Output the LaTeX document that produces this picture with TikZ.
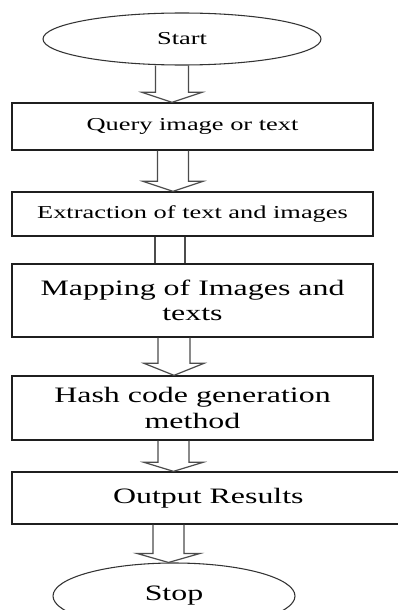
\documentclass[tikz,border=0pt]{standalone}
\usepackage{fontspec}
\setmainfont{Liberation Serif}[FakeStretch=1.45]
\usetikzlibrary{shapes.geometric,calc}
\newcommand{\smallfnt}{\fontsize{13.65pt}{15.7pt}\selectfont}
\newcommand{\bigfnt}{\fontsize{16.5pt}{19.1pt}\selectfont}
\newcommand{\blockarrow}[6]{%
  \draw[barrow]
    ($(O |- #1.south)+(#3-#4,0)$) --
    ($(O |- #2.north)+(#3-#4,-#6)$) --
    ($(O |- #2.north)+(#3-#5,-#6)$) --
    ($(O |- #2.north)+(#3,0)$) --
    ($(O |- #2.north)+(#3+#5,-#6)$) --
    ($(O |- #2.north)+(#3+#4,-#6)$) --
    ($(O |- #1.south)+(#3+#4,0)$);}
\begin{document}
\begin{tikzpicture}[x=0.75pt,y=-0.75pt,
  boxnode/.style={draw=black!88,line width=1pt,rectangle,inner sep=0pt,text=black},
  ovalnode/.style={draw=black!80,line width=0.8pt,ellipse,inner sep=0pt,text=black},
  barrow/.style={draw=black!70,line width=0.9pt,line join=miter},
  pipeline/.style={draw=black!70,line width=0.9pt}]
\clip (0,0) rectangle (398,610);
\fill[white] (0,0) rectangle (398,610);
\coordinate (O) at (0,0);
\node[ovalnode,minimum width=208.5pt,minimum height=39pt,font=\smallfnt] (start) at (182,39) {Start};
\node[boxnode,minimum width=270.75pt,minimum height=35.25pt,font=\smallfnt] (q) at (192.5,126.5) {Query image or text};
\node[boxnode,minimum width=270.75pt,minimum height=33pt,font=\smallfnt] (e) at (192.5,214) {Extraction of text and images};
\node[boxnode,minimum width=270.75pt,minimum height=54.75pt,font=\bigfnt,align=center] (m) at (192.5,300.5) {Mapping of Images and\\texts};
\node[boxnode,minimum width=270.75pt,minimum height=48pt,font=\bigfnt,align=center] (h) at (192.5,408) {Hash code generation\\method};
\node[boxnode,minimum width=292.5pt,minimum height=39pt,font=\bigfnt] (o) at (207,498) {\hspace*{2pt}Output Results};
\node[ovalnode,minimum width=181.5pt,minimum height=49.5pt,font=\bigfnt] (stop) at (174,596) {\raisebox{4pt}{Stop}};
\blockarrow{start}{q}{172}{16.5}{30}{10}
\blockarrow{q}{e}{173}{15.5}{30}{10}
\draw[pipeline] ($(O |- e.south)+(155,0)$) -- ($(O |- m.north)+(155,0)$);
\draw[pipeline] ($(O |- e.south)+(185,0)$) -- ($(O |- m.north)+(185,0)$);
\blockarrow{m}{h}{174}{16}{30}{12}
\blockarrow{h}{o}{173.5}{15.5}{29.5}{9}
\blockarrow{o}{stop}{168.5}{15.5}{31.5}{9}
\end{tikzpicture}
\end{document}
